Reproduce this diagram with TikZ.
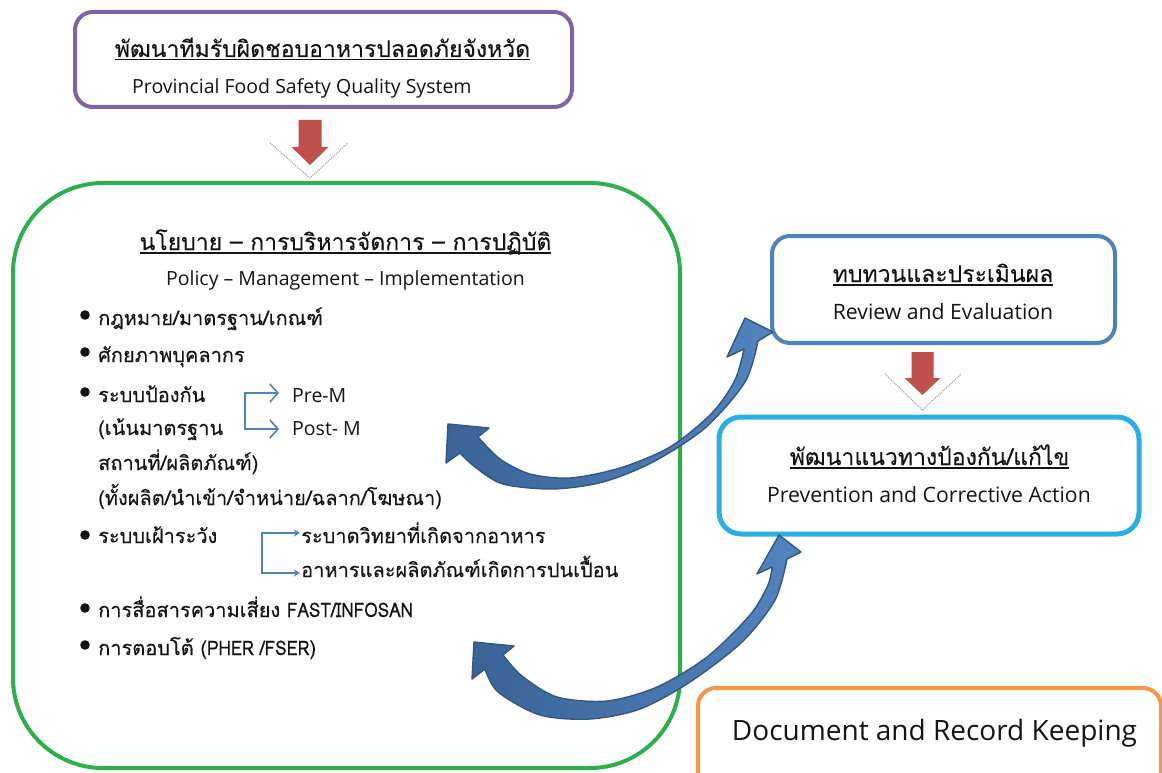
\documentclass[tikz,border=0pt]{standalone}
\usepackage{fontspec}
\setmainfont{Open Sans}
\newfontfamily\thai[Script=Thai,FakeBold=0.15]{Loma}
\newfontfamily\thainarrow[Script=Thai,FakeStretch=0.86,FakeBold=0.15]{Loma}
\usetikzlibrary{arrows.meta}

\definecolor{boxpurple}{HTML}{8064A2}
\definecolor{boxgreen}{HTML}{2DB04B}
\definecolor{boxblue}{HTML}{4F81BD}
\definecolor{boxcyan}{HTML}{2BAEE6}
\definecolor{boxorange}{HTML}{F79646}
\definecolor{downred}{HTML}{C0504D}
\definecolor{curvedark}{HTML}{3A6396}
\definecolor{curvelight}{HTML}{5284C0}
\definecolor{curveedge}{HTML}{34577F}
\definecolor{inktext}{HTML}{141414}

% underline drawn at a fixed depth below the baseline
\newcommand\thline[1]{\setbox0\hbox{#1}\rlap{\rule[-3.5pt]{\wd0}{1.2pt}}\box0}

\tikzset{
  framebox/.style={draw=#1, line width=4pt, rounded corners=18pt, fill=white},
  txt/.style={inner sep=0pt, text=inktext},
  thaihead/.style={txt, anchor=base, font=\thai\fontsize{23}{23}\selectfont},
  enghead/.style={txt, anchor=base, font=\fontsize{19.5}{19.5}\selectfont},
  engbox/.style={txt, anchor=base, font=\fontsize{21.2}{21.2}\selectfont},
  thaiitem/.style={txt, anchor=base west, font=\thai\fontsize{20}{20}\selectfont},
  engitem/.style={txt, anchor=base west, font=\fontsize{19.5}{19.5}\selectfont},
  bracket/.style={draw=boxblue, line width=1.6pt},
  downarrow/.style={fill=downred},
  chevron/.style={draw=gray!70, line width=1.1pt, densely dotted},
  curved/.style={left color=curvedark, right color=curvelight, draw=curveedge, line width=1.4pt, line join=round}
}

\begin{document}
\begin{tikzpicture}[x=1pt,y=-1pt]
\useasboundingbox[fill=white] (0,0) rectangle (1162,773);

% frames
\node[framebox=boxpurple, minimum width=497pt, minimum height=95pt] (top) at (323.5,59.5) {};
\node[framebox=boxgreen, rounded corners=90pt, minimum width=667pt, minimum height=585pt] (main) at (346.5,475.5) {};
\node[framebox=boxblue, minimum width=343pt, minimum height=107pt] (review) at (943.5,289.5) {};
\node[framebox=boxcyan, line width=5pt, rounded corners=22pt, minimum width=420pt, minimum height=117pt] (prevent) at (929,475.5) {};
\node[framebox=boxorange, minimum width=463pt, minimum height=110pt] (record) at (929.5,743) {};

% top box text
\node[thaihead] (topth) at (322.5,57) {\thline{พัฒนาทีมรับผิดชอบอาหารปลอดภัยจังหวัด}};
\node[enghead, anchor=base west] (topen) at (132,94) {Provincial Food Safety Quality System};

% main box heading
\node[thaihead] (mainth) at (345.5,250) {\thline{นโยบาย – การบริหารจัดการ – การปฏิบัติ}};
\node[enghead] (mainen) at (345.5,285) {Policy – Management – Implementation};

% bullet list
\foreach \yy in {315,352,392,535,608,645}
  \fill[inktext] (85,\yy) circle[radius=4.8pt];
\node[thaiitem] (i1) at (98,325) {กฎหมาย/มาตรฐาน/เกณฑ์};
\node[thaiitem] (i2) at (98,362) {ศักยภาพบุคลากร};
\node[thaiitem] (i3) at (98,402) {ระบบป้องกัน};
\node[thaiitem] (i3b) at (98,435) {(เน้นมาตรฐาน};
\node[thaiitem] (i3c) at (98,470) {สถานที่/ผลิตภัณฑ์)};
\node[thaiitem] (i3d) at (98,505) {(ทั้งผลิต/นำเข้า/จำหน่าย/ฉลาก/โฆษณา)};
\node[thaiitem] (i4) at (98,543) {ระบบเฝ้าระวัง};
\node[thaiitem] (i5) at (98,617) {การสื่อสารความเสี่ยง {\thainarrow FAST/INFOSAN}};
\node[thaiitem] (i6) at (98,655) {การตอบโต้ ({\thainarrow PHER /FSER})};

% prevention branches
\node[engitem] (prem) at (292,402) {Pre-M};
\node[engitem] (postm) at (292,435) {Post- M};
\coordinate (pbx) at (245,0);
\draw[bracket, {Straight Barb[length=8pt,width=18pt]}-{Straight Barb[length=8pt,width=18pt]}]
  ([xshift=-13pt,yshift=9pt]prem.base west) -- ([yshift=9pt]prem.base west -| pbx)
  -- ([yshift=6pt]postm.base west -| pbx) -- ([xshift=-13pt,yshift=6pt]postm.base west);

% surveillance branches
\node[thaiitem] (s1) at (301,543) {ระบาดวิทยาที่เกิดจากอาหาร};
\node[thaiitem] (s2) at (301,577) {อาหารและผลิตภัณฑ์เกิดการปนเปื้อน};
\coordinate (sbx) at (262,0);
\draw[bracket, {Stealth[length=6pt,width=7pt]}-{Stealth[length=6pt,width=7pt]}]
  ([xshift=-1pt,yshift=10pt]s1.base west) -- ([yshift=10pt]s1.base west -| sbx)
  -- ([yshift=4pt]s2.base west -| sbx) -- ([xshift=-1pt,yshift=4pt]s2.base west);

% right column text
\node[thaihead] (revth) at (943,282) {\thline{ทบทวนและประเมินผล}};
\node[engbox] (reven) at (943,319) {Review and Evaluation};
\node[thaihead] (prevth) at (929.5,465) {\thline{พัฒนาแนวทางป้องกัน/แก้ไข}};
\node[engbox] (preven) at (929,502) {Prevention and Corrective Action};
\node[txt, anchor=base, font=\fontsize{28}{28}\selectfont] (recen) at (934.5,740) {Document and Record Keeping};

% downward block arrows
\coordinate (ra1) at (310,120);
\draw[chevron] (270,143) -- (310,178) -- (348,143);
\fill[downarrow] ([shift={(-11.5,0)}]ra1) -- ([shift={(-11.5,27)}]ra1) -- ([shift={(-18.5,27)}]ra1)
  -- ([shift={(0,45)}]ra1) -- ([shift={(18.5,27)}]ra1) -- ([shift={(11.5,27)}]ra1) -- ([shift={(11.5,0)}]ra1) -- cycle;
\coordinate (ra2) at (922.5,352);
\draw[chevron] (885,374) -- (922.5,410) -- (961,374);
\fill[downarrow] ([shift={(-11,0)}]ra2) -- ([shift={(-11,26)}]ra2) -- ([shift={(-18,26)}]ra2)
  -- ([shift={(0,43)}]ra2) -- ([shift={(18,26)}]ra2) -- ([shift={(11,26)}]ra2) -- ([shift={(11,0)}]ra2) -- cycle;

% curved double-headed arrows
\coordinate (c1a) at (448,424);
\coordinate (c1b) at (745,318);
\shadedraw[curved] (c1a) -- (489,428) -- (478,437)
  -- plot[smooth] coordinates {(478,437) (500,459) (530,474) (570,478) (620,468) (670,447) (712,413) (735,380) (744,349)}
  -- (727,357) -- (c1b) -- (773,332) -- (758,341)
  -- plot[smooth] coordinates {(758,341) (745,382) (705,428) (653,462) (603,482) (553,489) (503,484) (475,467) (460,453)}
  -- (446,463) -- cycle;
\coordinate (c2a) at (474,642);
\coordinate (c2b) at (779,535);
\shadedraw[curved] (c2a) -- (514,646) -- (503,655)
  -- plot[smooth] coordinates {(503,655) (522,676) (557,697) (607,701) (657,687) (707,657) (750,615) (768,585) (772,567)}
  -- (757,574) -- (c2b) -- (801,552) -- (787,559)
  -- plot[smooth] coordinates {(787,559) (775,600) (742,642) (690,682) (640,709) (590,719) (540,715) (498,692) (485,669)}
  -- (472,679) -- cycle;
\end{tikzpicture}
\end{document}
